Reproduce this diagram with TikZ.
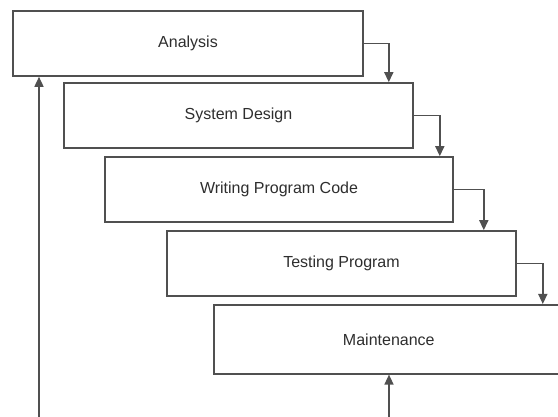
\documentclass[tikz,border=0pt]{standalone}
\usepackage{fontspec}
\setmainfont{Liberation Sans}
\usetikzlibrary{arrows.meta}
\definecolor{edge}{HTML}{505050}
\definecolor{label}{HTML}{2E2E2E}
\begin{document}
\begin{tikzpicture}[x=1pt,y=-1pt,
  phase/.style={draw=edge,line width=1.6pt,fill=white,minimum width=349pt,
    minimum height=65pt,inner sep=0pt,text=label,font=\fontsize{16}{19}\selectfont},
  flow/.style={draw=edge,line width=1.5pt,-{Triangle[width=9pt,length=10pt]}}]
\useasboundingbox (0,0) rectangle (558,417);
\clip (0,0) rectangle (558,417);
\fill[white] (0,0) rectangle (558,417);

\node[phase,minimum width=350pt] (ana) at (188,43.5) {Analysis};
\node[phase] (sys) at (238.5,115.5) {System Design};
\node[phase,minimum width=348pt] (code) at (279,189.5) {Writing Program Code};
\node[phase] (test) at (341.5,263.5) {Testing Program};
\node[phase,minimum width=350pt,minimum height=69pt,anchor=north west] (main) at (213,304) {Maintenance};

% step-down connectors
\draw[flow] (ana.east) -| ([xshift=25pt]ana.east |- sys.north);
\draw[flow] (sys.east) -| ([xshift=26pt]sys.east |- code.north);
\draw[flow] (code.east) -| ([xshift=30pt]code.east |- test.north);
\draw[flow] (test.east) -| ([xshift=26pt]test.east |- main.north);

% feedback lines from below
\coordinate (fbl) at (39,417);
\coordinate (fbr) at (389,417);
\draw[flow] (fbl) -- (ana.south -| fbl);
\draw[flow] (fbr) -- (main.south -| fbr);
\end{tikzpicture}
\end{document}
